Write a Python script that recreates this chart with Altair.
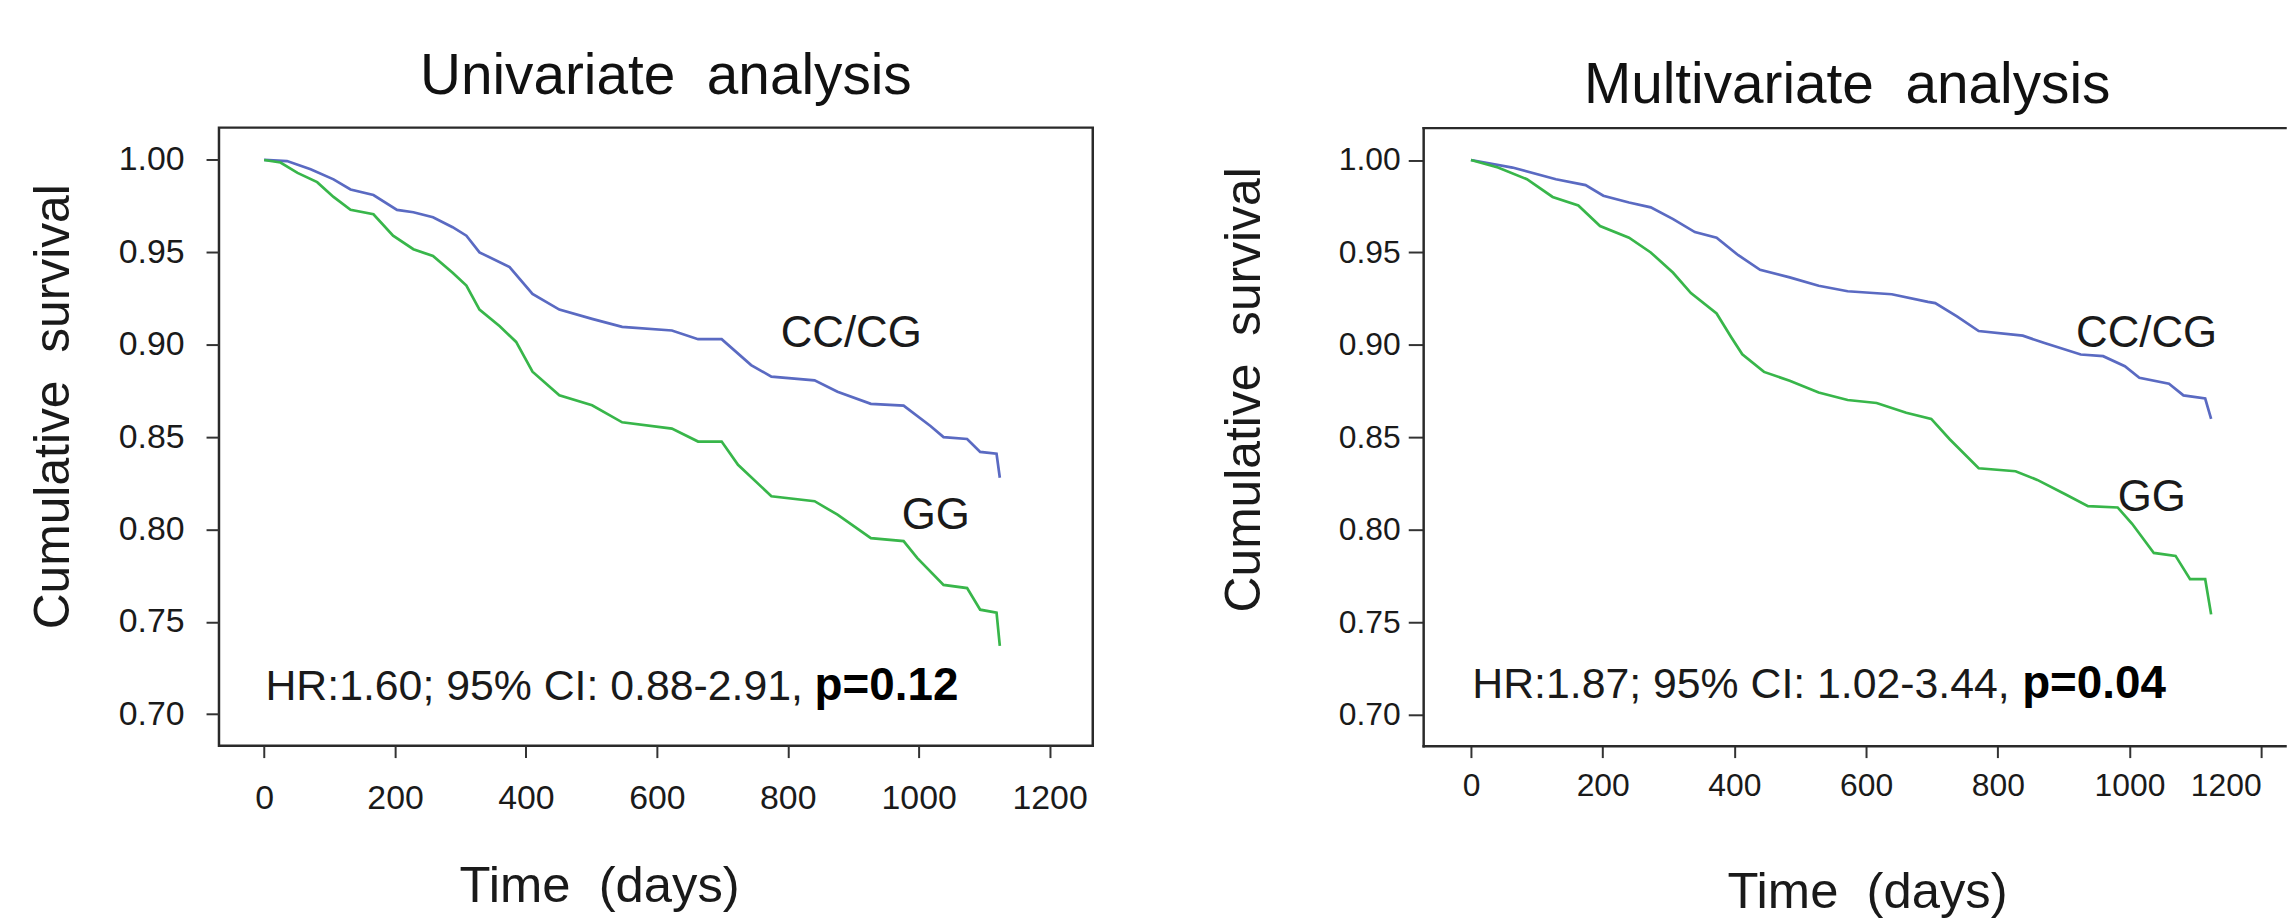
import altair as alt
import pandas as pd

# ---------------- data ----------------
groups = ["CC/CG", "GG"]
colors = ["#5a6ac2", "#38b64a"]
x_ticks = [0, 200, 400, 600, 800, 1000, 1200]
y_ticks = [0.70, 0.75, 0.80, 0.85, 0.90, 0.95, 1.00]

# Univariate analysis
uni_cc_t = [0, 35, 71, 106, 132, 167, 203, 228, 258, 288, 309, 329, 375, 410, 451, 501, 547, 623, 663, 699, 744, 775, 841, 876, 927, 977, 1018, 1038, 1074, 1094, 1119, 1124]
uni_cc_s = [1.0, 0.9994, 0.995, 0.9895, 0.984, 0.981, 0.973, 0.9717, 0.969, 0.9636, 0.959, 0.950, 0.942, 0.9275, 0.919, 0.914, 0.9097, 0.9077, 0.903, 0.903, 0.889, 0.8827, 0.8807, 0.8746, 0.868, 0.867, 0.856, 0.850, 0.849, 0.842, 0.841, 0.828]
uni_gg_t = [0, 25, 51, 81, 106, 132, 167, 197, 228, 258, 288, 309, 329, 360, 385, 410, 451, 501, 547, 623, 663, 699, 724, 775, 841, 876, 927, 977, 998, 1038, 1074, 1094, 1119, 1124]
uni_gg_s = [1.0, 0.9986, 0.993, 0.988, 0.980, 0.973, 0.9706, 0.959, 0.9517, 0.948, 0.939, 0.932, 0.919, 0.910, 0.9015, 0.8854, 0.8726, 0.8672, 0.858, 0.8546, 0.8476, 0.8476, 0.835, 0.818, 0.8153, 0.808, 0.7953, 0.7937, 0.7845, 0.770, 0.7683, 0.7566, 0.755, 0.737]

# Multivariate analysis
mul_cc_t = [0, 63, 129, 174, 201, 240, 273, 307, 340, 373, 406, 439, 484, 528, 572, 639, 694, 705, 738, 771, 838, 871, 926, 960, 993, 1015, 1060, 1082, 1115, 1124]
mul_cc_s = [1.0, 0.9959, 0.9896, 0.9864, 0.9807, 0.977, 0.9744, 0.968, 0.961, 0.958, 0.9485, 0.9406, 0.9365, 0.932, 0.929, 0.9274, 0.9233, 0.9226, 0.9154, 0.9075, 0.905, 0.901, 0.8948, 0.8939, 0.8885, 0.8822, 0.879, 0.8727, 0.871, 0.860]
mul_gg_t = [0, 41, 85, 124, 163, 196, 240, 273, 307, 334, 373, 395, 412, 445, 484, 528, 572, 616, 661, 699, 727, 771, 827, 860, 904, 937, 982, 1004, 1037, 1070, 1092, 1115, 1124]
mul_gg_s = [1.0, 0.9959, 0.9896, 0.980, 0.9754, 0.9643, 0.958, 0.950, 0.939, 0.928, 0.917, 0.9043, 0.8949, 0.8854, 0.8806, 0.8743, 0.8702, 0.8686, 0.8633, 0.860, 0.849, 0.8333, 0.8317, 0.827, 0.819, 0.8128, 0.8121, 0.8033, 0.7875, 0.7859, 0.7733, 0.7733, 0.7543]

# curve labels
uni_lab_t = [897, 1026]
uni_lab_s = [0.9058, 0.807]
mul_lab_t = [1026, 1034]
mul_lab_s = [0.906, 0.817]

# annotation (regular part, bold part)
uni_note = ["HR:1.60; 95% CI: 0.88-2.91,", "p=0.12"]
uni_note_t = [2, 841]
uni_note_s = [0.7075, 0.7075]
mul_note = ["HR:1.87; 95% CI: 1.02-3.44,", "p=0.04"]
mul_note_t = [2, 837]
mul_note_s = [0.709, 0.709]

REG = "Liberation Sans, Arial, sans-serif"
INK = "#1a1a1a"
FRAME = "#2a2a2a"


def panel(title, cc_t, cc_s, gg_t, gg_s, lab_t, lab_s, note, note_t, note_s,
          xdom, ydom, width, height, title_dx, title_offset, tick_fs,
          xlab_pad, xtitle_x, xtitle_y, ylab_pad, ytick, ytitle_x, ytitle_y,
          open_right):
    curves = pd.DataFrame({
        "t": cc_t + gg_t,
        "s": cc_s + gg_s,
        "group": [groups[0]] * len(cc_t) + [groups[1]] * len(gg_t),
    })
    labels = pd.DataFrame({"t": lab_t, "s": lab_s, "label": groups})
    notes = pd.DataFrame({"t": note_t, "s": note_s, "txt": note,
                          "w": ["normal", "bold"]})

    xs = alt.Scale(domain=xdom, nice=False, zero=False)
    ys = alt.Scale(domain=ydom, nice=False, zero=False)

    frame_axis = dict(domain=open_right, domainColor=FRAME, domainWidth=2.5,
                      domainCap="square")

    xaxis = alt.Axis(values=x_ticks, format="d", grid=False,
                     labelFont=REG, labelFontSize=tick_fs, labelColor=INK,
                     labelPadding=xlab_pad, labelFlush=(30 if open_right else False),
                     labelOverlap=False,
                     tickSize=12, tickWidth=2, tickColor="#333",
                     title="Time\u00a0 (days)", titleFont=REG, titleFontSize=51,
                     titleFontWeight="normal", titleColor=INK,
                     titleX=xtitle_x, titleY=xtitle_y, titleBaseline="alphabetic",
                     **frame_axis)
    yaxis = alt.Axis(values=y_ticks, format=".2f", grid=False,
                     labelFont=REG, labelFontSize=tick_fs, labelColor=INK,
                     labelPadding=ylab_pad, labelFlush=False, labelOverlap=False,
                     tickSize=ytick, tickWidth=2, tickColor="#333",
                     title="Cumulative\u00a0 survival", titleFont=REG, titleFontSize=50,
                     titleFontWeight="normal", titleColor=INK, titleAngle=270,
                     titleX=ytitle_x, titleY=ytitle_y, titleBaseline="alphabetic",
                     **frame_axis)

    lines = alt.Chart(curves).mark_line(interpolate="linear", strokeWidth=2.7).encode(
        x=alt.X("t:Q", scale=xs, axis=xaxis),
        y=alt.Y("s:Q", scale=ys, axis=yaxis),
        color=alt.Color("group:N", scale=alt.Scale(domain=groups, range=colors), legend=None),
    )
    if open_right:
        lab_x = alt.X("t:Q", scale=xs,
                      axis=alt.Axis(orient="top", labels=False, ticks=False, grid=False,
                                    title="", domain=True, domainColor=FRAME,
                                    domainWidth=2.5, domainCap="square"))
        txt_x = alt.X("t:Q", scale=xs, axis=None)
    else:
        lab_x = alt.X("t:Q", scale=xs)
        txt_x = alt.X("t:Q", scale=xs)
    lab = alt.Chart(labels).mark_text(font=REG, fontSize=44, color=INK,
                                      align="center", baseline="middle").encode(
        x=lab_x, y=alt.Y("s:Q", scale=ys), text="label:N")
    reg = alt.Chart(notes).transform_filter("datum.w == 'normal'").mark_text(
        font=REG, fontSize=43, color=INK, align="left", baseline="alphabetic").encode(
        x=txt_x, y=alt.Y("s:Q", scale=ys), text="txt:N")
    bold = alt.Chart(notes).transform_filter("datum.w == 'bold'").mark_text(
        font=REG, fontSize=46, fontWeight="bold", color="#000", align="left",
        baseline="alphabetic").encode(
        x=txt_x, y=alt.Y("s:Q", scale=ys), text="txt:N")

    props = dict(
        width=width, height=height,
        title=alt.TitleParams(title, font=REG, fontSize=57, fontWeight="normal",
                              color="#111", frame="group", anchor="middle",
                              dx=title_dx, offset=title_offset, baseline="alphabetic"),
    )
    layered = alt.layer(lines, lab, reg, bold)
    if open_right:
        layered = layered.resolve_axis(x="independent")
        props["view"] = alt.ViewBackground(stroke="transparent")
    return layered.properties(**props)


left = panel("Univariate\u00a0 analysis", uni_cc_t, uni_cc_s, uni_gg_t, uni_gg_s,
             uni_lab_t, uni_lab_s, uni_note, uni_note_t, uni_note_s,
             xdom=[-69, 1266], ydom=[0.683, 1.0175], width=878, height=621,
             title_dx=10, title_offset=-23, tick_fs=34,
             xlab_pad=24, xtitle_x=382, xtitle_y=157,
             ylab_pad=22, ytick=13, ytitle_x=-151, ytitle_y=280,
             open_right=False)

right = panel("Multivariate\u00a0 analysis", mul_cc_t, mul_cc_s, mul_gg_t, mul_gg_s,
              mul_lab_t, mul_lab_s, mul_note, mul_note_t, mul_note_s,
              xdom=[-72.6, 1236.2], ydom=[0.6833, 1.0175], width=866, height=621,
              title_dx=-7, title_offset=-32, tick_fs=32,
              xlab_pad=13, xtitle_x=446, xtitle_y=163,
              ylab_pad=8, ytick=15, ytitle_x=-164, ytitle_y=263,
              open_right=True)

chart = alt.hconcat(left, right, spacing=332, bounds="flush").properties(
    padding={"left": 19, "top": 36, "right": 0, "bottom": 0}
).configure_view(stroke=FRAME, strokeWidth=2.5)

chart.save("out.html", embed_options={"renderer": "svg", "actions": False})
